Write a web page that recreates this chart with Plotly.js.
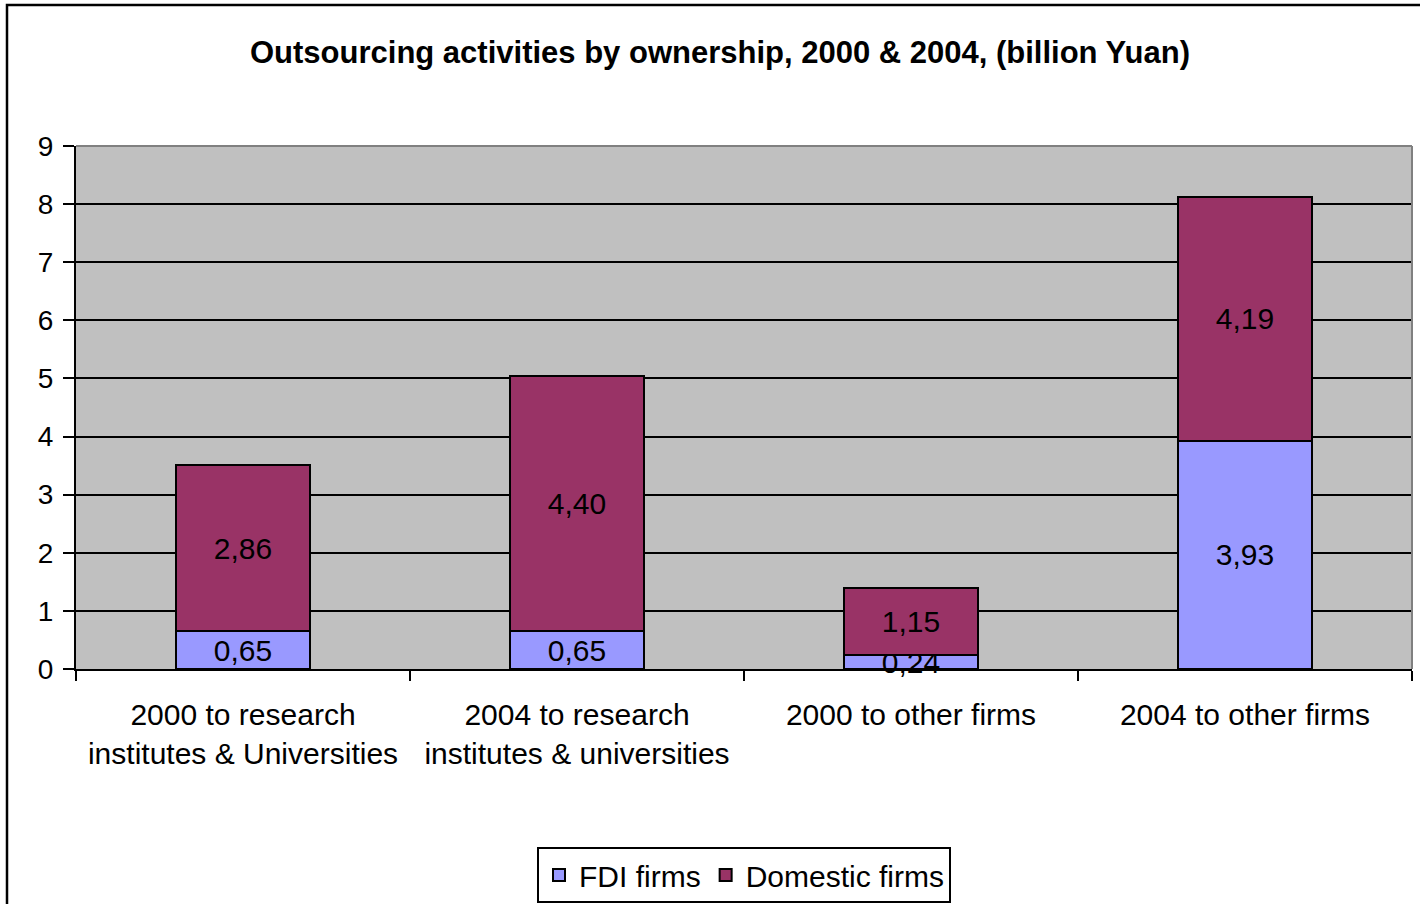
<!DOCTYPE html>
<html>
<head>
<meta charset="utf-8">
<script src="https://cdn.plot.ly/plotly-3.0.1.min.js"></script>
<style>html,body{margin:0;padding:0;background:#fff;}#chart{width:1420px;height:904px;}</style>
</head>
<body>
<div id="chart"></div>
<script>
const categories = [
  "2000 to research<br>institutes & Universities",
  "2004 to research<br>institutes & universities",
  "2000 to other firms",
  "2004 to other firms"
];
const fdiValues = [0.65, 0.65, 0.24, 3.93];
const domesticValues = [2.86, 4.40, 1.15, 4.19];
const yTickValues = [0, 1, 2, 3, 4, 5, 6, 7, 8, 9];
const seriesNames = ["FDI firms", "Domestic firms"];

const fmt = v => v.toFixed(2).replace('.', ',');
const font = "Liberation Sans, Arial, sans-serif";

const traces = [
  {
    type: 'bar', name: seriesNames[0], x: categories, y: fdiValues,
    text: fdiValues.map(fmt), textposition: 'inside', insidetextanchor: 'middle', constraintext: 'none',
    cliponaxis: false,
    textfont: {family: font, size: 30, color: '#000'},
    marker: {color: '#9999FF', line: {color: '#000', width: 2}},
    hoverinfo: 'none'
  },
  {
    type: 'bar', name: seriesNames[1], x: categories, y: domesticValues,
    text: domesticValues.map(fmt), textposition: 'inside', insidetextanchor: 'middle', constraintext: 'none',
    cliponaxis: false,
    textfont: {family: font, size: 30, color: '#000'},
    marker: {color: '#993366', line: {color: '#000', width: 2}},
    hoverinfo: 'none'
  }
];

const layout = {
  width: 1420, height: 904,
  margin: {l: 76, r: 8, t: 146, b: 235, autoexpand: false},
  paper_bgcolor: '#fff', plot_bgcolor: '#C0C0C0',
  barmode: 'stack', bargap: 0.6,
  font: {family: font, size: 28, color: '#000'},
  title: {
    text: '<b>Outsourcing activities by ownership, 2000 &amp; 2004, (billion Yuan)</b>',
    font: {family: font, size: 31, color: '#000'},
    x: 720/1420, xref: 'container', xanchor: 'center', y: 1 - 52/904, yref: 'container', yanchor: 'middle'
  },
  xaxis: {
    type: 'category', tickson: 'boundaries', ticks: 'outside', ticklen: 10, tickwidth: 2, tickcolor: '#000',
    showline: true, linecolor: '#000', linewidth: 2, showgrid: false,
    tickfont: {family: font, size: 30, color: '#000'}, ticklabelstandoff: 18
  },
  yaxis: {
    range: [0, 9], tickvals: yTickValues, ticks: 'outside', ticklen: 11, tickwidth: 2, tickcolor: '#000',
    showline: true, linecolor: '#000', linewidth: 2,
    showgrid: true, gridcolor: '#000', gridwidth: 2, zeroline: false,
    tickfont: {family: font, size: 28, color: '#000'}, ticklabelstandoff: 4
  },
  showlegend: true,
  legend: {
    orientation: 'h', x: 0.5, xanchor: 'center', y: (669-847)/523, yanchor: 'top',
    bgcolor: '#fff', bordercolor: '#000', borderwidth: 2,
    font: {family: font, size: 30, color: '#000'}, traceorder: 'normal'
  },
  shapes: [
    {type: 'line', xref: 'paper', yref: 'paper', x0: 0, x1: 1, y0: 1, y1: 1, line: {color: '#808080', width: 2}, layer: 'above'},
    {type: 'line', xref: 'paper', yref: 'paper', x0: 1, x1: 1, y0: 0, y1: 1, line: {color: '#808080', width: 2}, layer: 'above'},
    {type: 'rect', xref: 'paper', yref: 'paper', x0: (7-76)/1336, x1: 1.02, y0: -0.5, y1: (669-5)/523, line: {color: '#000', width: 2.5}, fillcolor: 'rgba(0,0,0,0)', layer: 'above'}
  ]
};

Plotly.newPlot('chart', traces, layout, {staticPlot: true, displayModeBar: false});
</script>
</body>
</html>
